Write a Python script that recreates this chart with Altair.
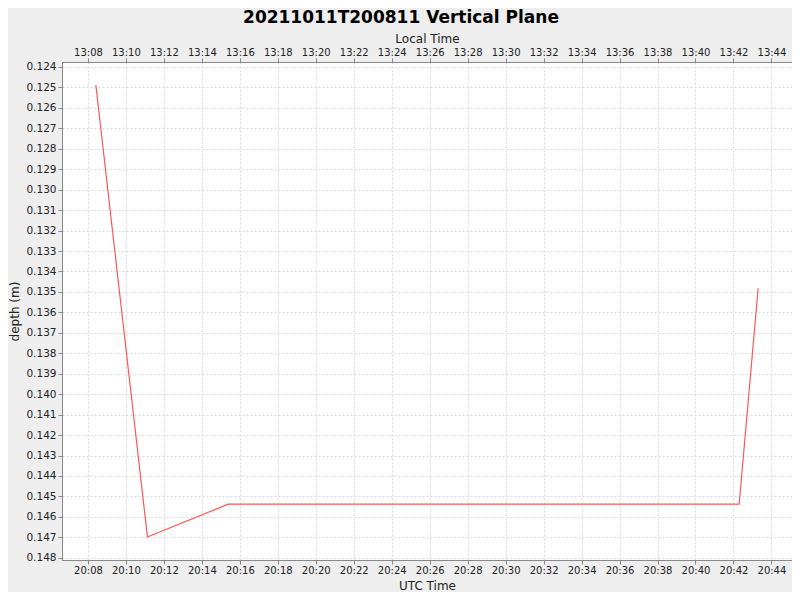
import altair as alt
import pandas as pd

# Data
utc_times = ["2021-10-11T20:08:25Z", "2021-10-11T20:11:08Z", "2021-10-11T20:15:23Z",
             "2021-10-11T20:42:18Z", "2021-10-11T20:43:18Z"]
depths = [0.12488, 0.14698, 0.14538, 0.14538, 0.13482]
utc_offset_hours = -7
x_tick_minutes = list(range(8, 46, 2))
y_ticks = [round(0.124 + 0.001 * i, 3) for i in range(25)]

t = pd.to_datetime(utc_times)
local = t + pd.Timedelta(hours=utc_offset_hours)
df = pd.DataFrame({
    "utc": [x.strftime("%Y-%m-%dT%H:%M:%SZ") for x in t],
    "local": [x.strftime("%Y-%m-%dT%H:%M:%SZ") for x in local],
    "depth": depths,
})

def dt(h, m, s=0):
    return alt.DateTime(year=2021, month=10, date=11, hours=h, minutes=m, seconds=s, utc=True)

utc_domain = [dt(20, 6, 38), dt(20, 45, 5)]
loc_domain = [dt(13, 6, 38), dt(13, 45, 5)]
utc_vals = [dt(20, m) for m in x_tick_minutes if m <= 44]
loc_vals = [dt(13, m) for m in x_tick_minutes if m <= 44]

FONT = "DejaVu Sans"
common_axis = dict(
    labelFont=FONT, labelFontSize=10, labelColor="#222222", labelOverlap=False,
    titleFont=FONT, titleFontSize=12, titleFontWeight="normal", titleColor="#222222",
    domainColor="#888888", tickColor="#888888", tickSize=4,
)

y_dom = [0.123756, 0.148108]
y_axis_opts = dict(common_axis, labelFontSize=10.5)
y_enc = alt.Y("depth:Q",
              scale=alt.Scale(domain=y_dom, reverse=True, zero=False, nice=False),
              axis=alt.Axis(values=y_ticks, format=".3f", title="depth (m)",
                            grid=True, gridColor="#d8d8d8", gridDash=[2, 2],
                            labelPadding=2, titlePadding=4, **y_axis_opts))

bottom = alt.Chart(df).mark_line(color="#ff5555", strokeWidth=1.2).encode(
    x=alt.X("utc:T", scale=alt.Scale(type="utc", domain=utc_domain, nice=False),
            axis=alt.Axis(values=utc_vals, format="%H:%M", title="UTC Time",
                          grid=True, gridColor="#d8d8d8", gridDash=[2, 2],
                          labelPadding=1, titlePadding=5, **common_axis)),
    y=y_enc,
)

top = alt.Chart(df).mark_line(opacity=0).encode(
    x=alt.X("local:T", scale=alt.Scale(type="utc", domain=loc_domain, nice=False),
            axis=alt.Axis(values=loc_vals, format="%H:%M", title="Local Time", orient="top",
                          grid=False, labelPadding=1, titlePadding=2, **common_axis)),
    y=y_enc,
)

chart = alt.layer(bottom, top).resolve_scale(x="independent").properties(
    width=730, height=498,
    title=alt.TitleParams("20211011T200811 Vertical Plane", font=FONT, fontSize=17,
                          fontWeight="bold", color="#000000", anchor="middle", dx=-26, offset=0, dy=-5),
    background="#eeeeee",
    padding={"left": 54, "top": 54, "right": 0, "bottom": 32},
    autosize=alt.AutoSizeParams(type="none"),
).configure_view(fill="white", stroke="#888888", strokeWidth=1)

chart.save("out.html", embed_options={"renderer": "svg", "actions": False})
